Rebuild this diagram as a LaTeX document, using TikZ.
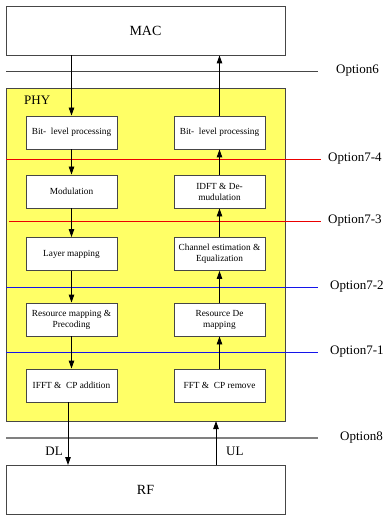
\documentclass[tikz,border=0pt]{standalone}
\usepackage{fontspec}
\setmainfont{Liberation Serif}
\usetikzlibrary{arrows.meta}
\definecolor{phyyellow}{RGB}{255,255,102}
\definecolor{edgegray}{RGB}{70,70,70}
\definecolor{splitred}{RGB}{235,0,0}
\definecolor{splitblue}{RGB}{20,20,235}

\begin{document}
\begin{tikzpicture}[x=1pt, y=-1pt, >={Triangle[length=8pt,width=5.5pt]},
  blk/.style={draw=edgegray, fill=white, line width=0.9pt, minimum width=91pt,
    minimum height=33pt, inner sep=1pt, align=center, font=\fontsize{9.3}{11}\selectfont},
  big/.style={draw=edgegray, fill=white, line width=0.9pt, minimum width=279pt,
    minimum height=49pt, font=\fontsize{14}{16}\selectfont},
  opt/.style={anchor=west, inner sep=0pt, font=\fontsize{13}{15}\selectfont},
  lbl/.style={font=\fontsize{13}{15}\selectfont}]
  \useasboundingbox (0,0) rectangle (389,521);

  % PHY area
  \node[draw=edgegray, fill=phyyellow, line width=0.9pt, minimum width=279pt,
    minimum height=333pt] (phy) at (145.5,254.5) {};
  \node[anchor=west, inner sep=0pt, lbl] (phylabel) at (24,100) {PHY};

  % split options
  \coordinate (o6a) at (6,71.5);   \coordinate (o6b) at (318,71.5);
  \coordinate (o74a) at (6,159.5); \coordinate (o74b) at (321,159.5);
  \coordinate (o73a) at (9,221.5); \coordinate (o73b) at (321,221.5);
  \coordinate (o72a) at (6,287.5); \coordinate (o72b) at (318,287.5);
  \coordinate (o71a) at (6,352.5); \coordinate (o71b) at (318,352.5);
  \coordinate (o8a) at (6,438);    \coordinate (o8b) at (318,438);
  \draw[edgegray, line width=1pt] (o6a) -- (o6b);
  \draw[splitred, line width=1.1pt] (o74a) -- (o74b);
  \draw[splitred, line width=1.1pt] (o73a) -- (o73b);
  \draw[splitblue, line width=1.1pt] (o72a) -- (o72b);
  \draw[splitblue, line width=1.1pt] (o71a) -- (o71b);
  \draw[gray, line width=2pt] (o8a) -- (o8b);
  \node[opt] (l6) at (336,71) {Option6};
  \node[opt] (l74) at (328,159) {Option7-4};
  \node[opt] (l73) at (328,221) {Option7-3};
  \node[opt] (l72) at (330,287) {Option7-2};
  \node[opt] (l71) at (330,352) {Option7-1};
  \node[opt] (l8) at (340,438) {Option8};

  \node[big] (mac) at (145.5,30.5) {MAC};
  \node[big] (rf) at (145.5,490) {RF};

  % downlink
  \node[blk] (d1) at (71.5,132.5) {Bit-\ \ level processing};
  \node[blk] (d2) at (71.5,191.5) {Modulation};
  \node[blk] (d3) at (71.5,254) {Layer mapping};
  \node[blk] (d4) at (71.5,319.5) {Resource mapping \&\\Precoding};
  \node[blk] (d5) at (71.5,385.5) {IFFT \&\ \ CP addition};
  % uplink
  \node[blk] (u1) at (219.5,132.5) {Bit-\ \ level processing};
  \node[blk] (u2) at (219.5,191.5) {IDFT \& De-\\mudulation};
  \node[blk] (u3) at (219.5,254) {Channel estimation \&\\Equalization};
  \node[blk] (u4) at (219.5,319.5) {Resource De\\mapping};
  \node[blk] (u5) at (219.5,385.5) {FFT \&\ \ CP remove};

  \draw[->, line width=0.9pt] (mac.south -| d1) -- (d1);
  \foreach \i/\j in {1/2,2/3,3/4,4/5} {
    \draw[->, line width=0.9pt] (d\i) -- (d\j);
    \draw[->, line width=0.9pt] (u\j) -- (u\i);
  }
  \draw[->, line width=0.9pt] (u1) -- (mac.south -| u1);

  \coordinate (dl) at (68,402);
  \coordinate (ul) at (216,421);
  \draw[->, line width=0.9pt] (dl) -- (dl |- rf.north);
  \draw[->, line width=0.9pt] (ul |- rf.north) -- (ul);
  \node[lbl, anchor=east, inner sep=0pt] (dllabel) at (63,451) {DL};
  \node[lbl, anchor=west, inner sep=0pt] (ullabel) at (226,451) {UL};
\end{tikzpicture}
\end{document}
